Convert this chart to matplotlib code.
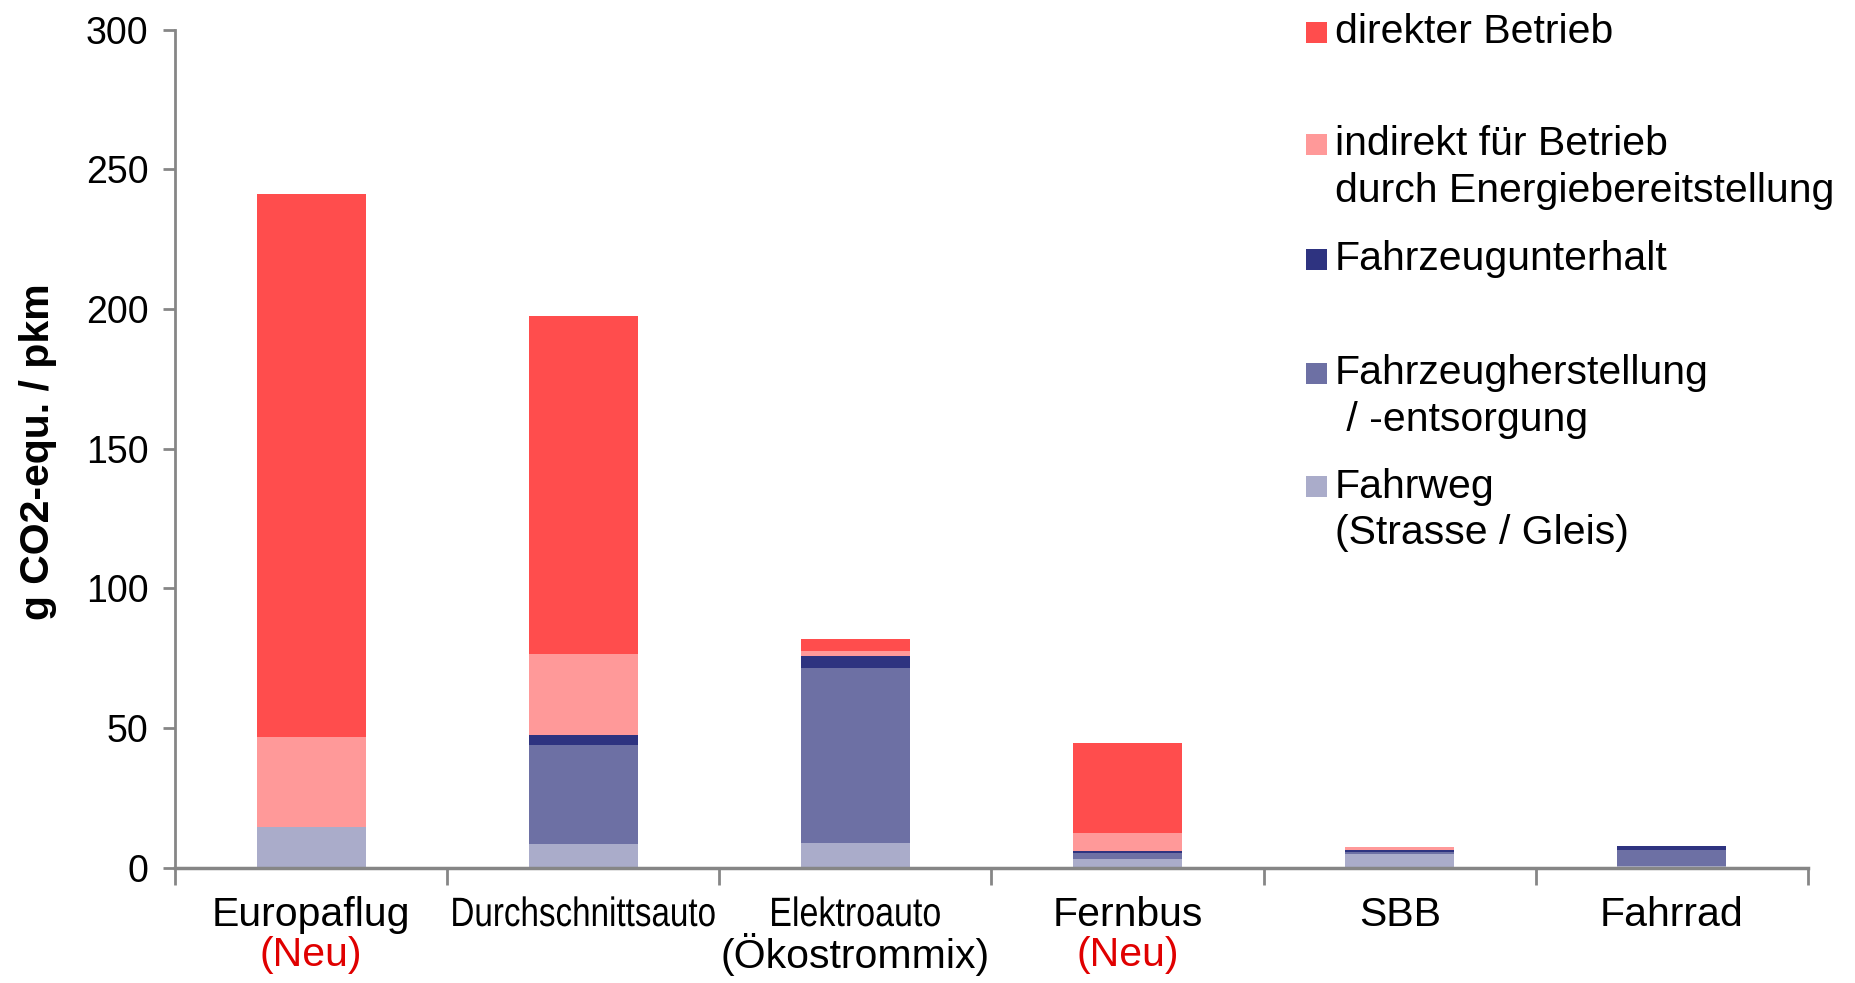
import matplotlib
matplotlib.use("Agg")
import matplotlib.pyplot as plt
import matplotlib.transforms as mtransforms
from matplotlib.patches import Rectangle
from matplotlib.patheffects import AbstractPathEffect
import numpy as np

plt.rcParams['font.family'] = ['Liberation Sans', 'DejaVu Sans']

categories = ["Europaflug", "Durchschnittsauto", "Elektroauto", "Fernbus", "SBB", "Fahrrad"]
sublabels = ["(Neu)", "", "(Ökostrommix)", "(Neu)", "", ""]
sublabel_colors = ["#e00000", "black", "black", "#e00000", "black", "black"]

# stacked components (bottom -> top)
fahrweg      = [14.4, 8.3, 8.8, 3.2, 5.0, 0.4]
herstellung  = [0.3, 35.5, 62.8, 1.9, 0.6, 5.9]
unterhalt    = [0.0, 3.7, 4.1, 0.7, 0.6, 1.3]
indirekt     = [32.1, 29.1, 2.0, 6.5, 1.2, 0.0]
direkt       = [194.3, 120.9, 4.2, 32.4, 0.0, 0.0]

series = [
    ("Fahrweg\n(Strasse / Gleis)", fahrweg, "#aaacca"),
    ("Fahrzeugherstellung\n / -entsorgung", herstellung, "#6d70a4"),
    ("Fahrzeugunterhalt", unterhalt, "#2e3380"),
    ("indirekt für Betrieb\ndurch Energiebereitstellung", indirekt, "#ff9999"),
    ("direkter Betrieb", direkt, "#ff4d4d"),
]

yticks = [0, 50, 100, 150, 200, 250, 300]


class HorizontalSqueeze(AbstractPathEffect):
    """Condense a text horizontally about its anchor point (text stays a Text artist)."""
    def __init__(self, sx, anchor_func):
        super().__init__()
        self.sx = sx
        self.anchor_func = anchor_func

    def draw_path(self, renderer, gc, tpath, affine, rgbFace=None):
        cx = self.anchor_func()
        extra = mtransforms.Affine2D().translate(-cx, 0).scale(self.sx, 1).translate(cx, 0)
        renderer.draw_path(gc, tpath, affine + extra, rgbFace)


W, H = 1856, 983
fig = plt.figure(figsize=(W / 100, H / 100), dpi=100)
ax = fig.add_axes([175 / W, 1 - 867.6 / H, (1808 - 175) / W, (867.6 - 29.6) / H])

x = np.arange(len(categories))
bottom = np.zeros(len(categories))
for label, vals, col in series:
    ax.bar(x, vals, width=0.4, bottom=bottom, color=col, edgecolor="none", zorder=2)
    bottom += np.array(vals)

ax.set_xlim(-0.5, len(categories) - 0.5)
ax.set_ylim(0, 300)
ax.set_yticks(yticks)
ax.set_yticklabels([str(v) for v in yticks], fontsize=27)

axis_col = "#868686"
for s in ["top", "right"]:
    ax.spines[s].set_visible(False)
ax.spines["left"].set_color(axis_col)
ax.spines["bottom"].set_color(axis_col)
ax.spines["left"].set_linewidth(2)
ax.spines["bottom"].set_linewidth(2.5)
ax.tick_params(axis="y", direction="out", length=9, width=2, color=axis_col, pad=10)

# category boundary ticks
ax.set_xticks(np.arange(-0.5, len(categories), 1.0))
ax.set_xticklabels([])
ax.tick_params(axis="x", direction="out", length=12, width=2, color=axis_col)

squeeze = [1.0, 0.81, 0.83, 1.0, 1.0, 1.0]
trans = mtransforms.blended_transform_factory(ax.transData, fig.transFigure)
for i, (c, s, sc) in enumerate(zip(categories, sublabels, sublabel_colors)):
    t = ax.text(i, 1 - 915 / H, c, transform=trans, ha="center", va="center", fontsize=29.5)
    if squeeze[i] != 1.0:
        t.set_path_effects([HorizontalSqueeze(
            squeeze[i], (lambda ii=i: trans.transform((ii, 0.5))[0]))])
    if s:
        ax.text(i, 1 - 955 / H, s, transform=trans, ha="center", va="center", fontsize=29.5, color=sc)

fig.text(38 / W, 1 - 452 / H, "g CO2-equ. / pkm", rotation=90, ha="center", va="center",
         fontsize=29.5, fontweight="bold")

# legend (top -> bottom)
legend_y = [32, 144.4, 259, 373, 486.5]
line_step = 47
for (label, vals, col), yy in zip(reversed(series), legend_y):
    fig.patches.append(Rectangle((1306 / W, 1 - (yy + 10.5) / H), 21 / W, 21 / H,
                                 transform=fig.transFigure, facecolor=col, edgecolor="none"))
    for k, line in enumerate(label.split("\n")):
        fig.text(1335 / W, 1 - (yy + k * line_step) / H, line, ha="left", va="center", fontsize=29.5)

fig.savefig("out.png", dpi=100)
